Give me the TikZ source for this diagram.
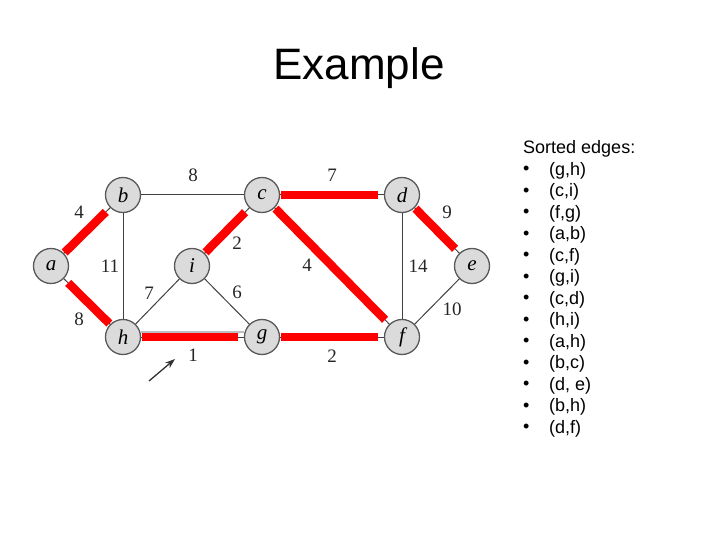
\documentclass[tikz,border=0pt]{standalone}
\usepackage{fontspec}
\setmainfont{Liberation Serif}
\newfontfamily\arialfont{Liberation Sans}
\usetikzlibrary{arrows.meta}
\begin{document}
\begin{tikzpicture}[x=1pt,y=-1pt,
  vtx/.style={circle,draw=black!65,line width=1.3pt,fill=black!14,minimum size=35pt,inner sep=0pt,font=\fontsize{21}{21}\selectfont\itshape},
  thin edge/.style={draw=black!75,line width=1pt},
  mst/.style={draw=red,line width=8.5pt,shorten <=1pt,shorten >=6pt},
  wt/.style={font=\fontsize{19}{19}\selectfont,text=black!85},
  item/.style={anchor=west,font=\arialfont\fontsize{18}{18}\selectfont,inner sep=0pt}]
\useasboundingbox (0,0) rectangle (720,540);
\node[font=\arialfont\fontsize{44}{44}\selectfont] (title) at (359,68) {Example};
% vertices
\node[vtx] (a) at (51,266) {a};
\node[vtx] (b) at (123,195) {b};
\node[vtx] (c) at (262,195) {c};
\node[vtx] (d) at (402,195) {d};
\node[vtx] (e) at (472,266) {e};
\node[vtx] (f) at (402,337) {f};
\node[vtx] (g) at (262,337) {g};
\node[vtx] (h) at (123,337) {h};
\node[vtx] (i) at (192,266) {i};
% shadow under h-g
\draw[draw=black!25,line width=2pt] ([yshift=5pt]h.east) -- ([yshift=5pt]g.west);
% thin edges
\draw[thin edge] (a) -- (b);
\draw[thin edge] (a) -- (h);
\draw[thin edge] (b) -- (c);
\draw[thin edge] (b) -- (h);
\draw[thin edge] (c) -- (d);
\draw[thin edge] (c) -- (i);
\draw[thin edge] (c) -- (f);
\draw[thin edge] (d) -- (e);
\draw[thin edge] (d) -- (f);
\draw[thin edge] (e) -- (f);
\draw[thin edge] (g) -- (f);
\draw[thin edge] (h) -- (g);
\draw[thin edge] (h) -- (i);
\draw[thin edge] (i) -- (g);
% MST edges
\draw[mst] (a) -- (b);
\draw[mst] (h) -- (a);
\draw[mst] (i) -- (c);
\draw[mst] (c) -- (d);
\draw[mst] (c) -- (f);
\draw[mst] (d) -- (e);
\draw[mst] (g) -- (f);
\draw[mst] (h) -- (g);
% weights
\node[wt] (w1) at (193,175) {8};
\node[wt] (w2) at (332,175) {7};
\node[wt] (w3) at (79,212) {4};
\node[wt] (w4) at (110,266) {11};
\node[wt] (w5) at (79,319) {8};
\node[wt] (w6) at (237,243) {2};
\node[wt] (w7) at (149,293) {7};
\node[wt] (w8) at (237,292) {6};
\node[wt] (w9) at (193,355) {1};
\node[wt] (w10) at (307,265) {4};
\node[wt] (w11) at (418,266) {14};
\node[wt] (w12) at (447,212) {9};
\node[wt] (w13) at (452,309) {10};
\node[wt] (w14) at (332,356) {2};
% arrow
\coordinate (ar1) at (149,381);
\coordinate (ar2) at (175,359);
\draw[black!80,line width=1.3pt,-{Stealth[length=10pt,width=7pt]}] (ar1) -- (ar2);
% list
\node[item] (hd) at (523,149) {Sorted edges:};
\foreach \t [count=\k] in {{(g,h)},{(c,i)},{(f,g)},{(a,b)},{(c,f)},{(g,i)},{(c,d)},{(h,i)},{(a,h)},{(b,c)},{(d, e)},{(b,h)},{(d,f)}}{
  \node[item] (bul\k) at (523,149+21.5*\k) {\textbullet};
  \node[item] (it\k) at (549,149+21.5*\k) {\t};
}
\end{tikzpicture}
\end{document}
